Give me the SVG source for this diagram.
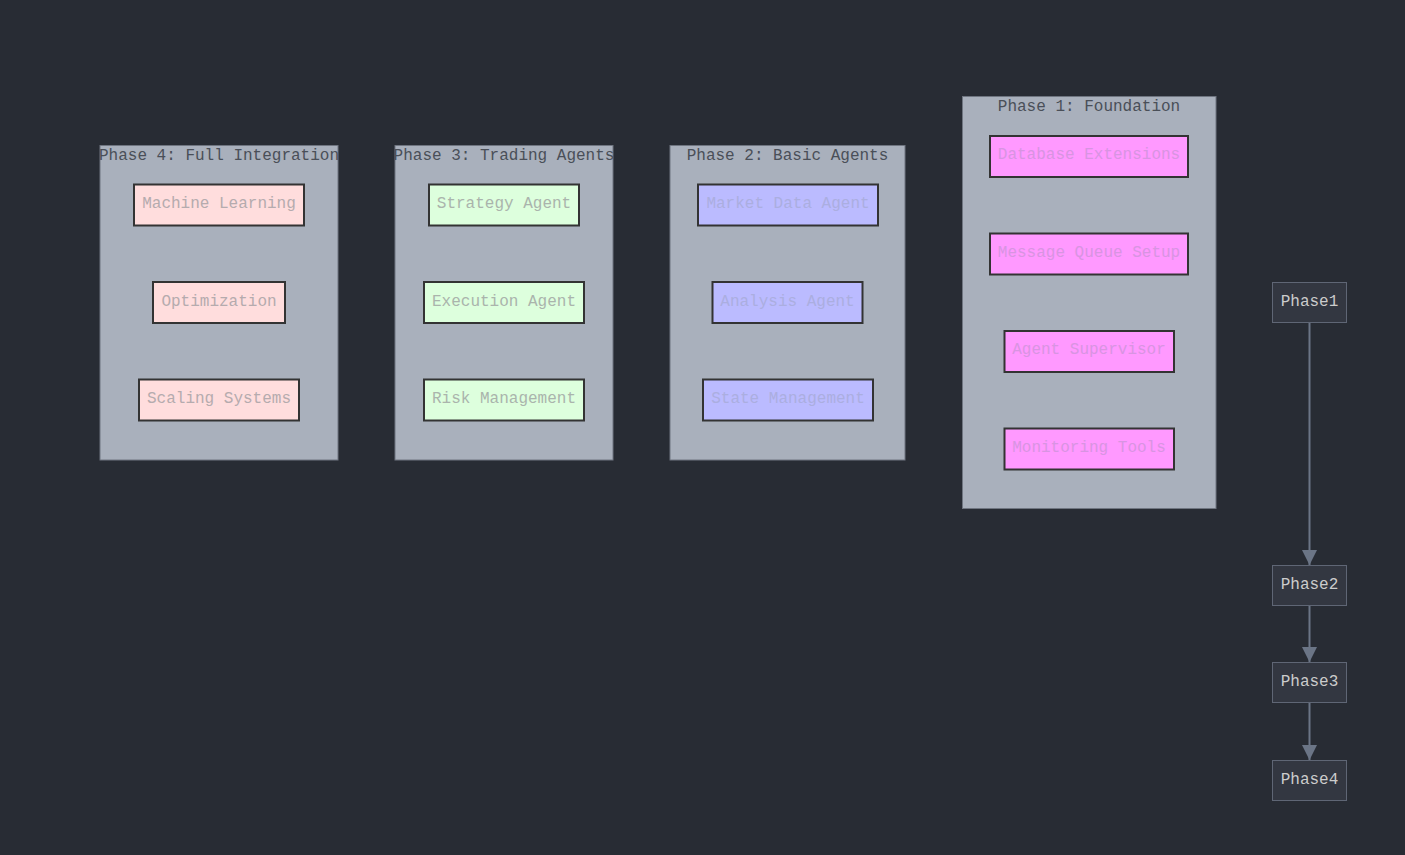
<svg xmlns="http://www.w3.org/2000/svg" width="1405" height="855" viewBox="0 0 1405 855">
<style>
.bg{fill:#282c34}
.cluster rect{fill:#a9b0bc;stroke:#6f7580;stroke-width:1}
.ctitle{font-family:"Liberation Mono","DejaVu Sans Mono",monospace;font-size:16px;fill:#4a4f58;text-anchor:middle}
.node rect{stroke:#333;stroke-width:2}
.node text,.pn text{font-family:"Liberation Mono","DejaVu Sans Mono",monospace;font-size:16px;fill:#b9bdc4;text-anchor:middle;dominant-baseline:central}
.p1 rect{fill:#ff99ff}
.p1 text{fill:#d894e2}
.p2 rect{fill:#bbbbff}
.p2 text{fill:#abaee0}
.p3 rect{fill:#ddffdd}
.p3 text{fill:#aab4ac}
.p4 rect{fill:#ffdddd}
.p4 text{fill:#b5abae}
.pn rect{fill:#333741;stroke:#5f6675;stroke-width:1}
.pn text{fill:#cccccc}
.edge{stroke:#6b7586;stroke-width:2;fill:none}
</style>
<defs>
<marker id="arr" viewBox="0 0 10 10" refX="10" refY="5" markerWidth="7.5" markerHeight="7.5" markerUnits="strokeWidth" orient="auto">
<path d="M0,0 L10,5 L0,10 z" fill="#6b7586"/>
</marker>
</defs>
<rect class="bg" x="0" y="0" width="1405" height="855"/>

<g id="cluster-phase4" class="cluster">
<rect x="100" y="145.5" width="238" height="314.5"/>
<text class="ctitle" x="219" y="160">Phase 4: Full Integration</text>
</g>
<g id="cluster-phase3" class="cluster">
<rect x="395" y="145.5" width="218" height="314.5"/>
<text class="ctitle" x="504" y="160">Phase 3: Trading Agents</text>
</g>
<g id="cluster-phase2" class="cluster">
<rect x="670" y="145.5" width="235" height="314.5"/>
<text class="ctitle" x="787.5" y="160">Phase 2: Basic Agents</text>
</g>
<g id="cluster-phase1" class="cluster">
<rect x="962.5" y="96.5" width="253.5" height="412"/>
<text class="ctitle" x="1089" y="111">Phase 1: Foundation</text>
</g>

<g id="ml" class="node p4"><rect x="134" y="184.5" width="170" height="41"/><text x="219" y="204">Machine Learning</text></g>
<g id="opt" class="node p4"><rect x="153" y="282" width="132" height="41"/><text x="219" y="301.5">Optimization</text></g>
<g id="scale" class="node p4"><rect x="139" y="379.5" width="160" height="41"/><text x="219" y="399">Scaling Systems</text></g>

<g id="strat" class="node p3"><rect x="429" y="184.5" width="150" height="41"/><text x="504" y="204">Strategy Agent</text></g>
<g id="exec" class="node p3"><rect x="424" y="282" width="160" height="41"/><text x="504" y="301.5">Execution Agent</text></g>
<g id="risk" class="node p3"><rect x="424" y="379.5" width="160" height="41"/><text x="504" y="399">Risk Management</text></g>

<g id="mda" class="node p2"><rect x="698" y="184.5" width="180" height="41"/><text x="788" y="204">Market Data Agent</text></g>
<g id="aa" class="node p2"><rect x="712.5" y="282" width="150" height="41"/><text x="787.5" y="301.5">Analysis Agent</text></g>
<g id="sm" class="node p2"><rect x="703" y="379.5" width="170" height="41"/><text x="788" y="399">State Management</text></g>

<g id="db" class="node p1"><rect x="990" y="136" width="198" height="41"/><text x="1089" y="155">Database Extensions</text></g>
<g id="mq" class="node p1"><rect x="990" y="233.5" width="198" height="41"/><text x="1089" y="253">Message Queue Setup</text></g>
<g id="as" class="node p1"><rect x="1004.5" y="331" width="169.5" height="41"/><text x="1089" y="350">Agent Supervisor</text></g>
<g id="mt" class="node p1"><rect x="1004.5" y="428.5" width="169.5" height="41"/><text x="1089" y="448">Monitoring Tools</text></g>

<g id="connectors">
<line class="edge" x1="1309.5" y1="323" x2="1309.5" y2="565" marker-end="url(#arr)"/>
<line class="edge" x1="1309.5" y1="606" x2="1309.5" y2="662" marker-end="url(#arr)"/>
<line class="edge" x1="1309.5" y1="703" x2="1309.5" y2="760" marker-end="url(#arr)"/>
</g>

<g id="Phase1" class="pn"><rect x="1272.5" y="282.5" width="74" height="40"/><text x="1309.5" y="302">Phase1</text></g>
<g id="Phase2" class="pn"><rect x="1272.5" y="565.5" width="74" height="40"/><text x="1309.5" y="585">Phase2</text></g>
<g id="Phase3" class="pn"><rect x="1272.5" y="662.5" width="74" height="40"/><text x="1309.5" y="682">Phase3</text></g>
<g id="Phase4" class="pn"><rect x="1272.5" y="760.5" width="74" height="40"/><text x="1309.5" y="780">Phase4</text></g>
</svg>
